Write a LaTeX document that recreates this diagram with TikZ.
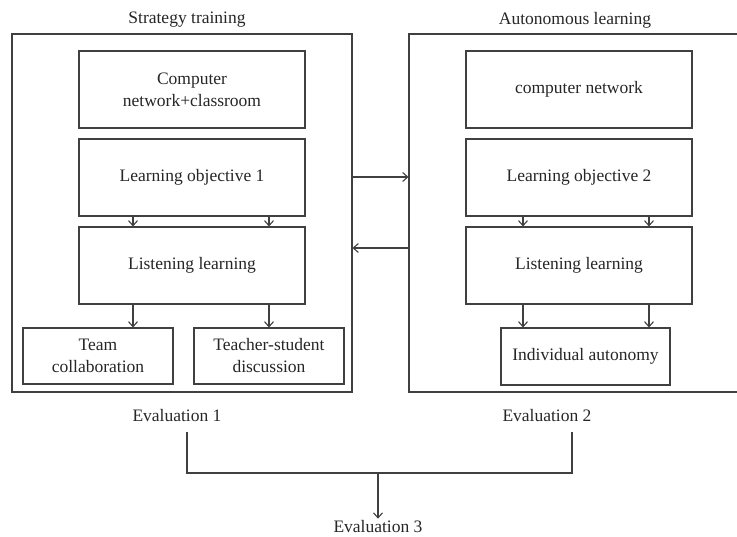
\documentclass[tikz,border=0pt]{standalone}
\usepackage{fontspec}
\setmainfont{Liberation Serif}
\usetikzlibrary{arrows.meta}
\begin{document}
\begin{tikzpicture}[x=1pt,y=-1pt,
  every node/.style={font=\fontsize{17.5}{22}\selectfont, text=black!85},
  box/.style={draw=black!75, line width=1.1pt, rectangle, align=center, inner sep=0pt},
  frame/.style={draw=black!75, line width=1.1pt, rectangle, inner sep=0pt},
  plain/.style={inner sep=2pt},
  conn/.style={draw=black!75, line width=1.1pt},
  arr/.style={conn, -{Straight Barb[length=5pt,width=9pt]}}
]
\useasboundingbox (0,0) rectangle (737,537);
% outer frames
\node[frame, minimum width=340pt, minimum height=358pt] (L) at (182,213) {};
\node[frame, minimum width=335pt, minimum height=358pt] (R) at (576.5,213) {};
\node[plain] (tL) at (187,20) {Strategy training};
\node[plain] (tR) at (575,20) {Autonomous learning};
% left column
\node[box, minimum width=226pt, minimum height=77pt] (a1) at (192,89.5) {Computer\\network+classroom};
\node[box, minimum width=226pt, minimum height=77pt] (a2) at (192,177.5) {Learning objective 1};
\node[box, minimum width=226pt, minimum height=77pt] (a3) at (192,265.5) {Listening learning};
\node[box, minimum width=150pt, minimum height=56pt] (a4) at (98,356) {Team\\collaboration};
\node[box, minimum width=150pt, minimum height=56pt] (a5) at (269,356) {Teacher-student\\discussion};
% right column
\node[box, minimum width=226pt, minimum height=77pt] (b1) at (579,89.5) {computer network};
\node[box, minimum width=226pt, minimum height=77pt] (b2) at (579,177.5) {Learning objective 2};
\node[box, minimum width=226pt, minimum height=77pt] (b3) at (579,265.5) {Listening learning};
\node[box, minimum width=169pt, minimum height=57pt] (b4) at (585.5,356.5) {Individual autonomy};
% evaluations
\node[plain] (e1) at (177,416) {Evaluation 1};
\node[plain] (e2) at (547,416) {Evaluation 2};
\node[plain] (e3) at (378,527) {Evaluation 3};
\coordinate (j1) at (187,432);
\coordinate (j2) at (572,432);
\coordinate (jm) at (378,473);
% left arrows
\draw[arr] (a2.south -| 133,0) -- (a3.north -| 133,0);
\draw[arr] (a2.south -| 269,0) -- (a3.north -| 269,0);
\draw[arr] (a3.south -| 133,0) -- (a4.north -| 133,0);
\draw[arr] (a3.south -| 269,0) -- (a5.north -| 269,0);
% right arrows
\draw[arr] (b2.south -| 523,0) -- (b3.north -| 523,0);
\draw[arr] (b2.south -| 649,0) -- (b3.north -| 649,0);
\draw[arr] (b3.south -| 523,0) -- (b4.north -| 523,0);
\draw[arr] (b3.south -| 649,0) -- (b4.north -| 649,0);
% between frames
\draw[arr] (L.east |- 0,177) -- (R.west |- 0,177);
\draw[arr] (R.west |- 0,248) -- (L.east |- 0,248);
% evaluation connectors
\draw[conn] (j1) |- (jm) -| (j2);
\draw[arr] (jm) -- (e3.north);
\end{tikzpicture}
\end{document}
